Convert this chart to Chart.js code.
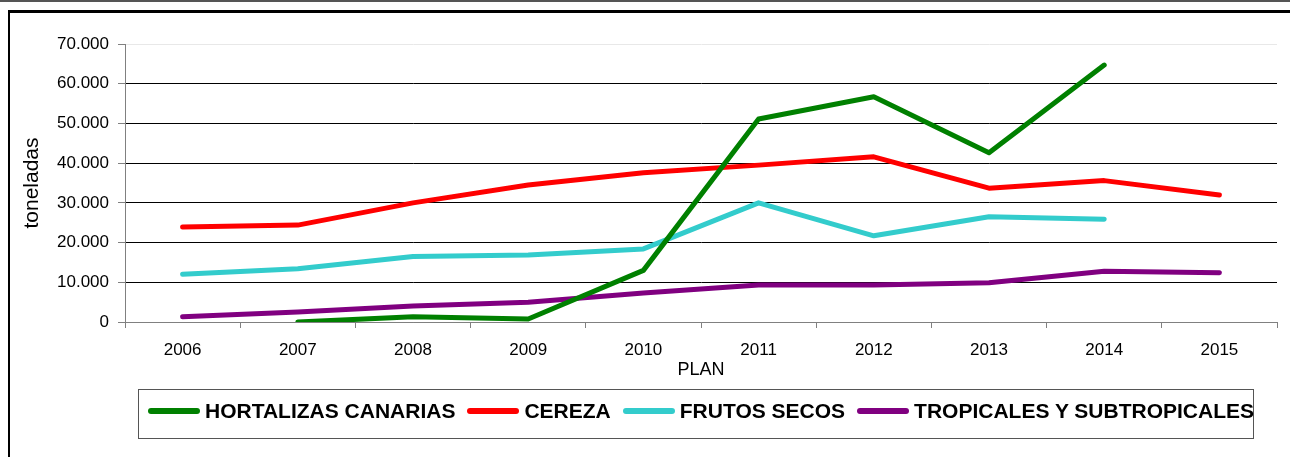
<!DOCTYPE html>
<html>
<head>
<meta charset="utf-8">
<script src="https://cdn.jsdelivr.net/npm/chart.js@4"></script>
<style>
  body { margin: 0; background: #fff; font-family: "Liberation Sans", Arial, sans-serif; }
  #wrap { position: relative; width: 1290px; height: 457px; overflow: hidden; }
  #topline { position: absolute; left: 0; top: 0; width: 1290px; height: 2px; background: #555; }
  #frame { position: absolute; left: 8px; top: 10px; width: 1300px; height: 500px; border-top: 3px solid #000; border-left: 2px solid #000; }
  #chartBox { position: absolute; left: 0; top: 0; width: 1290px; height: 457px; }
  #legend { position: absolute; left: 138px; top: 389px; width: 1116px; height: 50px; border: 1px solid #555; box-sizing: border-box;
            display: flex; align-items: flex-start; padding: 9px 0 0 9px; }
  .item { display: flex; align-items: center; margin-right: 12px; font-weight: bold; font-size: 21px; color: #000; white-space: nowrap; }
  .swatch { width: 52px; height: 6px; border-radius: 3px; margin-right: 5px; }
</style>
</head>
<body>
<div id="wrap">
  <div id="topline"></div>
  <div id="frame"></div>
  <div id="chartBox"><canvas id="myChart"></canvas></div>
  <div id="legend"></div>
</div>
<script>
  const anios = ['2006', '2007', '2008', '2009', '2010', '2011', '2012', '2013', '2014', '2015'];

  const hortalizas = [null, 0, 1300, 750, 13000, 51100, 56700, 42600, 64700, null];
  const cereza = [23900, 24400, 30000, 34500, 37600, 39500, 41600, 33700, 35600, 32000];
  const frutosSecos = [12000, 13400, 16500, 16900, 18400, 30000, 21700, 26500, 25900, null];
  const tropicales = [1300, 2500, 4000, 5000, 7300, 9300, 9300, 9900, 12800, 12400];

  const yTicks = [0, 10000, 20000, 30000, 40000, 50000, 60000, 70000];

  function formatoMiles(v) {
    return String(v).replace(/\B(?=(\d{3})+(?!\d))/g, '.');
  }

  function serie(label, data, color) {
    return {
      label: label,
      data: data,
      borderColor: color,
      backgroundColor: color,
      borderWidth: 5,
      borderCapStyle: 'round',
      borderJoinStyle: 'round',
      pointRadius: 0,
      tension: 0,
      spanGaps: false
    };
  }

  const fuente = { family: '"Liberation Sans", Arial, sans-serif' };

  const ctx = document.getElementById('myChart').getContext('2d');
  const chart = new Chart(ctx, {
    type: 'line',
    data: {
      labels: anios,
      datasets: [
        serie('HORTALIZAS CANARIAS', hortalizas, '#008000'),
        serie('CEREZA', cereza, '#ff0000'),
        serie('FRUTOS SECOS', frutosSecos, '#33cccc'),
        serie('TROPICALES Y SUBTROPICALES', tropicales, '#800080')
      ]
    },
    options: {
      responsive: true,
      maintainAspectRatio: false,
      animation: false,
      layout: { padding: { left: 10, right: 13, top: 44, bottom: 76 } },
      plugins: {
        legend: { display: false },
        tooltip: { enabled: false }
      },
      scales: {
        x: {
          offset: true,
          grid: { offset: true, drawOnChartArea: false, drawTicks: true, tickLength: 6, color: '#808080' },
          border: { color: '#808080', width: 1 },
          ticks: { color: '#000', padding: 12, maxRotation: 0, font: { ...fuente, size: 17 } },
          title: { display: true, text: 'PLAN', color: '#000', padding: { top: 0, bottom: 0 }, font: { ...fuente, size: 18 } },
          afterFit: s => { s.height = 59; }
        },
        y: {
          min: 0,
          max: 70000,
          afterBuildTicks: s => { s.ticks = yTicks.map(v => ({ value: v })); },
          grid: {
            color: c => c.tick && c.tick.value === 70000 ? '#e8e8e8' : (c.tick && c.tick.value === 0 ? '#808080' : '#000'),
            tickColor: '#808080',
            tickLength: 7,
            lineWidth: 1
          },
          border: { color: '#808080', width: 1 },
          ticks: { color: '#000', padding: 9, font: { ...fuente, size: 17 }, callback: v => formatoMiles(v) },
          title: { display: true, text: 'toneladas', color: '#000', padding: { top: 10, bottom: 0 }, font: { ...fuente, size: 21 } },
          afterFit: s => { s.width = 115; }
        }
      }
    }
  });

  // leyenda en HTML con caja, a partir de los datasets
  const leg = document.getElementById('legend');
  chart.data.datasets.forEach(ds => {
    const it = document.createElement('div');
    it.className = 'item';
    const sw = document.createElement('span');
    sw.className = 'swatch';
    sw.style.background = ds.borderColor;
    it.appendChild(sw);
    it.appendChild(document.createTextNode(ds.label));
    leg.appendChild(it);
  });
</script>
</body>
</html>
